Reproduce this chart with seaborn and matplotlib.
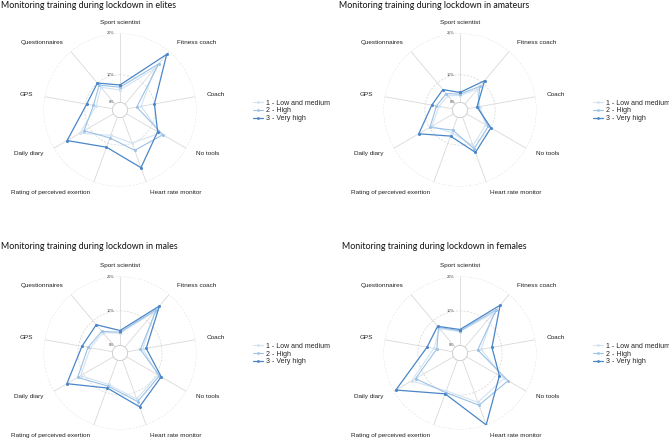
import numpy as np
import pandas as pd
import matplotlib
matplotlib.use("Agg")
import matplotlib.pyplot as plt
import seaborn as sns
from matplotlib.lines import Line2D
from matplotlib.transforms import offset_copy

categories = ["Sport scientist", "Fitness coach", "Coach", "No tools", "Heart rate monitor",
              "Rating of perceived exertion", "Daily diary", "GPS", "Questionnaires"]
levels = ["1 - Low and medium", "2 - High", "3 - Very high"]

# values in % (order follows categories)
elites_low = [4.5, 17.0, 5.0, 14.0, 10.0, 7.0, 14.0, 6.0, 8.0]
elites_high = [5.5, 19.1, 3.4, 15.2, 12.8, 8.0, 12.3, 7.0, 9.0]
elites_vhigh = [6.3, 23.6, 9.9, 13.0, 19.5, 11.6, 19.4, 9.5, 10.0]

amateurs_low = [2.5, 7.0, 4.5, 8.0, 11.0, 6.0, 9.0, 5.0, 4.0]
amateurs_high = [3.0, 8.4, 3.8, 9.1, 12.2, 5.0, 9.8, 5.9, 5.0]
amateurs_vhigh = [3.6, 11.1, 3.5, 10.2, 13.6, 7.3, 14.5, 7.6, 6.9]

males_low = [3.5, 13.5, 4.5, 10.5, 12.0, 7.5, 11.0, 6.5, 5.5]
males_high = [3.8, 14.2, 3.8, 11.0, 12.8, 8.0, 12.0, 7.2, 6.0]
males_vhigh = [4.3, 15.6, 5.5, 11.6, 14.4, 8.6, 15.6, 9.0, 8.5]

females_low = [4.0, 13.0, 4.0, 12.5, 13.0, 9.5, 14.0, 5.5, 7.0]
females_high = [4.2, 14.2, 3.0, 13.9, 13.9, 10.0, 12.7, 4.6, 7.5]
females_vhigh = [4.6, 15.9, 7.2, 11.0, 20.0, 10.4, 19.3, 7.5, 7.9]

grid_labels_elites = ["0%", "10%", "20%"]
grid_labels_amateurs = ["0%", "10%", "25%"]
grid_labels_sex = ["0%", "10%", "20%"]

charts = [
    ("Monitoring training during lockdown in elites", [elites_low, elites_high, elites_vhigh], 25, grid_labels_elites, (120, 110), (1, 8)),
    ("Monitoring training during lockdown in amateurs", [amateurs_low, amateurs_high, amateurs_vhigh], 25, grid_labels_amateurs, (460, 110), (339, 8)),
    ("Monitoring training during lockdown in males", [males_low, males_high, males_vhigh], 20, grid_labels_sex, (120, 353), (1, 249)),
    ("Monitoring training during lockdown in females", [females_low, females_high, females_vhigh], 20, grid_labels_sex, (460, 353), (342, 249)),
]

colors = ["#d2e3f3", "#9cc2e5", "#4a86c8"]
lws = [0.8, 0.8, 0.9]

sns.set_style("white")
W, H = 669, 441
fig = plt.figure(figsize=(W / 100, H / 100), dpi=100)
R = 76.5
n = len(categories)
thetas = [i * 2 * np.pi / n for i in range(n)]

for title, series, gmax, glabels, (cx, cy), (tx, ty) in charts:
    ax = fig.add_axes([(cx - R) / W, (H - cy - R) / H, 2 * R / W, 2 * R / H], projection="polar")
    ax.set_theta_zero_location("N")
    ax.set_theta_direction(-1)
    centre = -gmax / 9.0
    ax.set_ylim(centre, gmax)
    ax.grid(False)
    ax.spines["polar"].set_visible(False)
    ax.set_xticks([])
    ax.set_yticks([])
    ax.patch.set_alpha(0)

    circ = np.linspace(0, 2 * np.pi, 361)
    ax.plot(circ, np.full_like(circ, 0.0), color="#c8c8c8", lw=0.6, zorder=1)
    for rr in (10, gmax):
        ax.plot(circ, np.full_like(circ, float(rr)), color="#d4d4d4", lw=0.5,
                ls=(0, (3, 2)), zorder=1)
    for t in thetas:
        ax.plot([t, t], [0, gmax], color="#d9d9d9", lw=0.6, zorder=1)

    rows = []
    for lev, vals in zip(levels, series):
        for t, v in zip(thetas + [2 * np.pi], vals + [vals[0]]):
            rows.append({"theta": t, "value": v, "level": lev})
    df = pd.DataFrame(rows)
    sns.lineplot(data=df, x="theta", y="value", hue="level", hue_order=levels,
                 palette=colors, sort=False, estimator=None, marker="o",
                 markersize=2.2, markeredgewidth=0, linewidth=0.9, ax=ax, legend=False)
    for line, lw in zip(ax.lines[-3:], lws):
        line.set_linewidth(lw)
        line.set_zorder(3)
    ax.set_xlabel("")
    ax.set_ylabel("")
    ax.set_xticks([])
    ax.set_yticks([])

    rlab = centre + 1.15 * (gmax - centre)
    for t, lab in zip(thetas, categories):
        s = np.sin(t)
        ha = "center" if abs(s) < 1e-6 else ("left" if s > 0 else "right")
        ax.text(t, rlab, lab, ha=ha, va="center", fontsize=4.6,
                family="Liberation Sans", color="#222222", clip_on=False)

    tr = offset_copy(ax.transData, fig=fig, x=-5, y=0, units="dots")
    for rv, gl in zip((0, 10, gmax), glabels):
        ax.text(0, rv, gl, transform=tr, ha="right", va="center",
                fontsize=2.8, family="Liberation Sans", color="#444444")

    fig.text(tx / W, 1 - ty / H, title, ha="left", va="baseline", fontsize=6.4,
             family="Lato", color="#111111")

    handles = [Line2D([0], [0], color=c, lw=lw, marker="o", markersize=2, markeredgewidth=0)
               for c, lw in zip(colors, lws)]
    fig.legend(handles, levels, loc="center left",
               bbox_to_anchor=((cx + 133) / W, 1 - (cy + 1) / H),
               frameon=False, prop={"family": "Liberation Sans", "size": 5},
               handlelength=1.45, handletextpad=0.4, labelspacing=0.1,
               borderpad=0, borderaxespad=0)

fig.savefig("out.png", dpi=100, facecolor="white")
